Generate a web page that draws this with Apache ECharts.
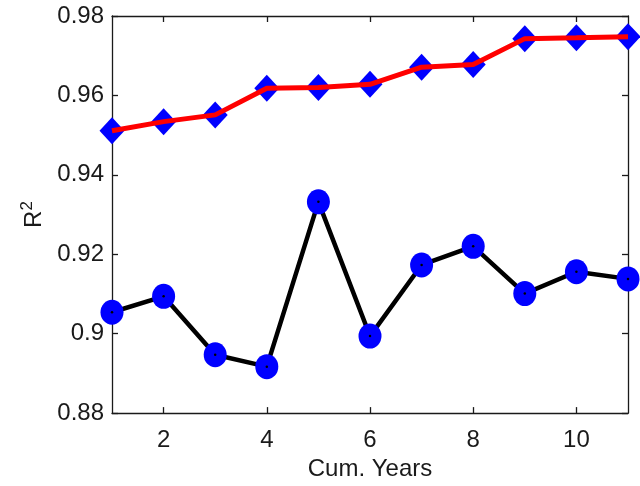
<!DOCTYPE html>
<html><head><meta charset="utf-8">
<script src="https://cdn.jsdelivr.net/npm/echarts@6/dist/echarts.min.js"></script>
<style>html,body{margin:0;padding:0;background:#fff}#c{width:640px;height:486px}</style>
</head><body><div id="c"></div>
<script>
const years = [1, 2, 3, 4, 5, 6, 7, 8, 9, 10, 11];
const seriesDiamond = [0.9511, 0.9534, 0.9551, 0.9618, 0.9620, 0.9628, 0.9671, 0.9678, 0.9743, 0.9745, 0.9748];
const seriesCircle = [0.9054, 0.9094, 0.8947, 0.8917, 0.9332, 0.8994, 0.9173, 0.9220, 0.9101, 0.9156, 0.9138];
const xTicks = [2, 4, 6, 8, 10];
const yTicks = [0.88, 0.9, 0.92, 0.94, 0.96, 0.98];

const pair = arr => years.map((x, i) => [x, arr[i]]);
const font = 'Liberation Sans, Arial, sans-serif';
const axisColor = '#1a1a1a';
const chart = echarts.init(document.getElementById('c'));
const baseX = {
  type: 'value', min: 1, max: 11, interval: 1,
  axisLine: { show: true, lineStyle: { color: axisColor, width: 1.3 } },
  axisTick: { show: true, inside: true, length: 6, lineStyle: { color: axisColor, width: 1.3 },
    customValues: xTicks },
  splitLine: { show: false }
};
const baseY = {
  type: 'value', min: 0.88, max: 0.98, interval: 0.02,
  axisLine: { show: true, lineStyle: { color: axisColor, width: 1.3 } },
  axisTick: { show: true, inside: true, length: 6, lineStyle: { color: axisColor, width: 1.3 } },
  splitLine: { show: false }
};
chart.setOption({
  animation: false,
  backgroundColor: '#fff',
  grid: { left: 112, right: 12, top: 16, bottom: 67, containLabel: false },
  xAxis: [
    Object.assign({}, baseX, {
      position: 'bottom',
      name: 'Cum. Years', nameLocation: 'middle', nameGap: 34,
      nameTextStyle: { fontFamily: font, fontSize: 24, color: axisColor },
      axisLabel: { show: true, margin: 15, fontFamily: font, fontSize: 24, color: axisColor,
        customValues: xTicks, formatter: v => String(v) }
    }),
    Object.assign({}, baseX, { position: 'top', axisLabel: { show: false } })
  ],
  yAxis: [
    Object.assign({}, baseY, {
      position: 'left',
      name: '{r|R}{s|2}', nameLocation: 'middle', nameGap: 64, nameRotate: 90,
      nameTextStyle: { fontFamily: font, fontSize: 24, color: axisColor,
        rich: {
          r: { fontFamily: font, fontSize: 24, color: axisColor, lineHeight: 28, verticalAlign: 'bottom' },
          s: { fontFamily: font, fontSize: 17, color: axisColor, lineHeight: 28, verticalAlign: 'top' }
        } },
      axisLabel: { show: true, margin: 8, fontFamily: font, fontSize: 24, color: axisColor,
        formatter: v => { const t = yTicks.find(k => Math.abs(k - v) < 1e-9); return t === undefined ? '' : String(t); } }
    }),
    Object.assign({}, baseY, { position: 'right', axisLabel: { show: false } })
  ],
  series: [
    { type: 'scatter', data: pair(seriesDiamond), symbol: 'diamond', symbolSize: [25, 27],
      itemStyle: { color: '#0000ff', opacity: 1 }, z: 2 },
    { type: 'line', data: pair(seriesDiamond), showSymbol: false, symbol: 'none',
      lineStyle: { color: '#ff0000', width: 5 }, z: 3 },
    { type: 'line', data: pair(seriesCircle), showSymbol: false, symbol: 'none',
      lineStyle: { color: '#000000', width: 4.5 }, z: 2 },
    { type: 'scatter', data: pair(seriesCircle), symbol: 'circle', symbolSize: [23, 25],
      itemStyle: { color: '#0000ff', opacity: 1 }, z: 3 },
    { type: 'scatter', data: pair(seriesCircle), symbol: 'circle', symbolSize: 2.5,
      itemStyle: { color: '#000000', opacity: 1 }, z: 4 }
  ]
});
</script></body></html>
